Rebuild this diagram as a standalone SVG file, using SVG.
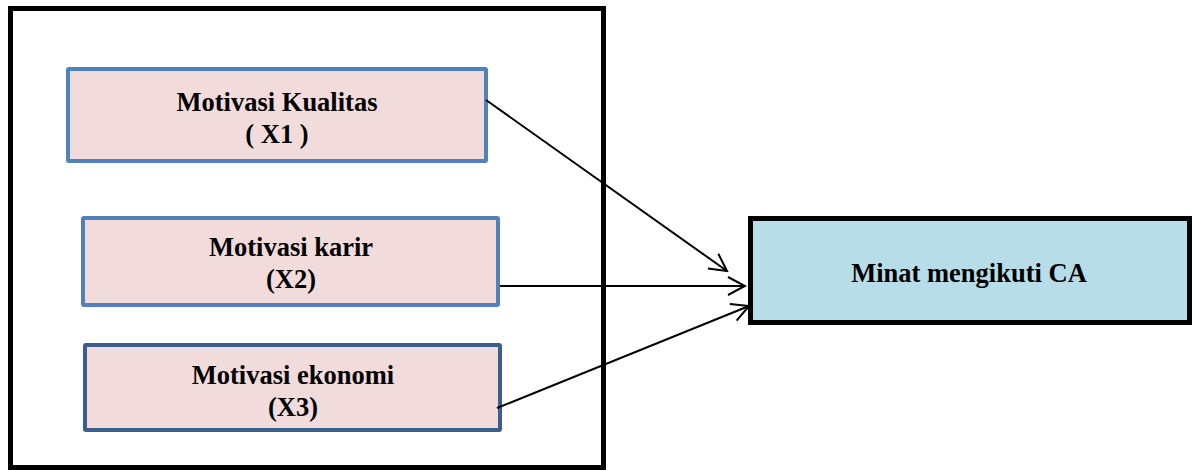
<svg xmlns="http://www.w3.org/2000/svg" width="1192" height="470" viewBox="0 0 1192 470">
  <style>
    .lbl { font-family: "Liberation Serif", "Times New Roman", serif; font-weight: bold; font-size: 26.5px; fill: #000; text-anchor: middle; }
    .src { fill: #f2dcdb; stroke-width: 4; }
    .conn { stroke: #000; stroke-width: 2; fill: none; marker-end: url(#open); }
  </style>
  <defs>
    <marker id="open" viewBox="0 0 20 20" refX="18" refY="10" markerWidth="20" markerHeight="20" markerUnits="userSpaceOnUse" orient="auto">
      <path d="M1,1 L18,10 L1,19" fill="none" stroke="#000" stroke-width="2"/>
    </marker>
  </defs>

  <!-- frame around the independent variables -->
  <rect id="frame" x="10.5" y="8.5" width="593" height="459" fill="#fff" stroke="#000" stroke-width="5"/>

  <g id="x1">
    <rect class="src" x="68" y="69" width="418" height="92" rx="1" stroke="#4f81bd"/>
    <text class="lbl" x="277" y="111">Motivasi Kualitas</text>
    <text class="lbl" x="277" y="143">( X1 )</text>
  </g>

  <g id="x2">
    <rect class="src" x="83" y="218" width="415" height="87" rx="1" stroke="#4f81bd"/>
    <text class="lbl" x="291" y="256">Motivasi karir</text>
    <text class="lbl" x="291" y="288">(X2)</text>
  </g>

  <g id="x3">
    <rect class="src" x="85" y="345" width="415" height="85" rx="1" stroke="#3b5e8c" stroke-width="4.5"/>
    <text class="lbl" x="293" y="384">Motivasi ekonomi</text>
    <text class="lbl" x="293" y="416">(X3)</text>
  </g>

  <g id="y">
    <rect x="750.5" y="218.5" width="439" height="104" fill="#b7dde8" stroke="#000" stroke-width="5"/>
    <text class="lbl" x="969" y="282">Minat mengikuti CA</text>
  </g>

  <g id="connectors">
    <line class="conn" x1="486" y1="100" x2="727" y2="271"/>
    <line class="conn" x1="500" y1="286" x2="745" y2="286"/>
    <line class="conn" x1="497" y1="408" x2="749" y2="306"/>
  </g>
</svg>
